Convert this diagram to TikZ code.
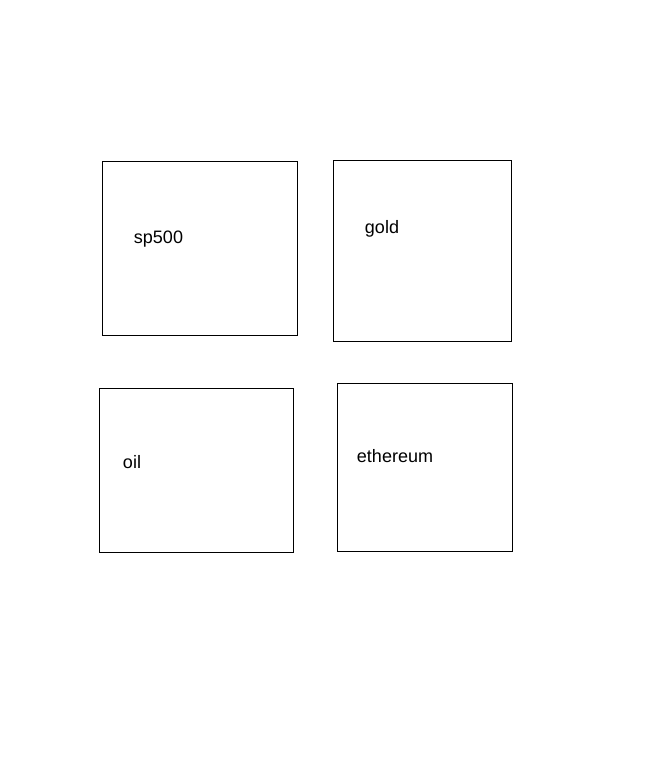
\documentclass[tikz,border=0pt]{standalone}
\usepackage{fontspec}
\setmainfont{Liberation Sans}
\begin{document}
\begin{tikzpicture}
    [x=1pt,y=-1pt,
     box/.style={draw=black,line width=1pt,shape=rectangle,anchor=north west,inner sep=0pt},
     tag/.style={font=\fontsize{18}{21}\selectfont,inner sep=0pt}]
    \useasboundingbox (0,0) rectangle (649,783);
    \node [box,minimum width=195pt,minimum height=174pt] (sp500) at (102,161) {};
    \node [box,minimum width=178pt,minimum height=181pt] (gold) at (333,160) {};
    \node [box,minimum width=194pt,minimum height=164pt] (oil) at (99,388) {};
    \node [box,minimum width=175pt,minimum height=168pt] (ethereum) at (337,383) {};
    \node [tag] (t1) at (158.5,239) {sp500};
    \node [tag] (t2) at (382,229) {gold};
    \node [tag] (t3) at (132,462) {oil};
    \node [tag] (t4) at (395,456) {ethereum};
  \end{tikzpicture}
\end{document}
